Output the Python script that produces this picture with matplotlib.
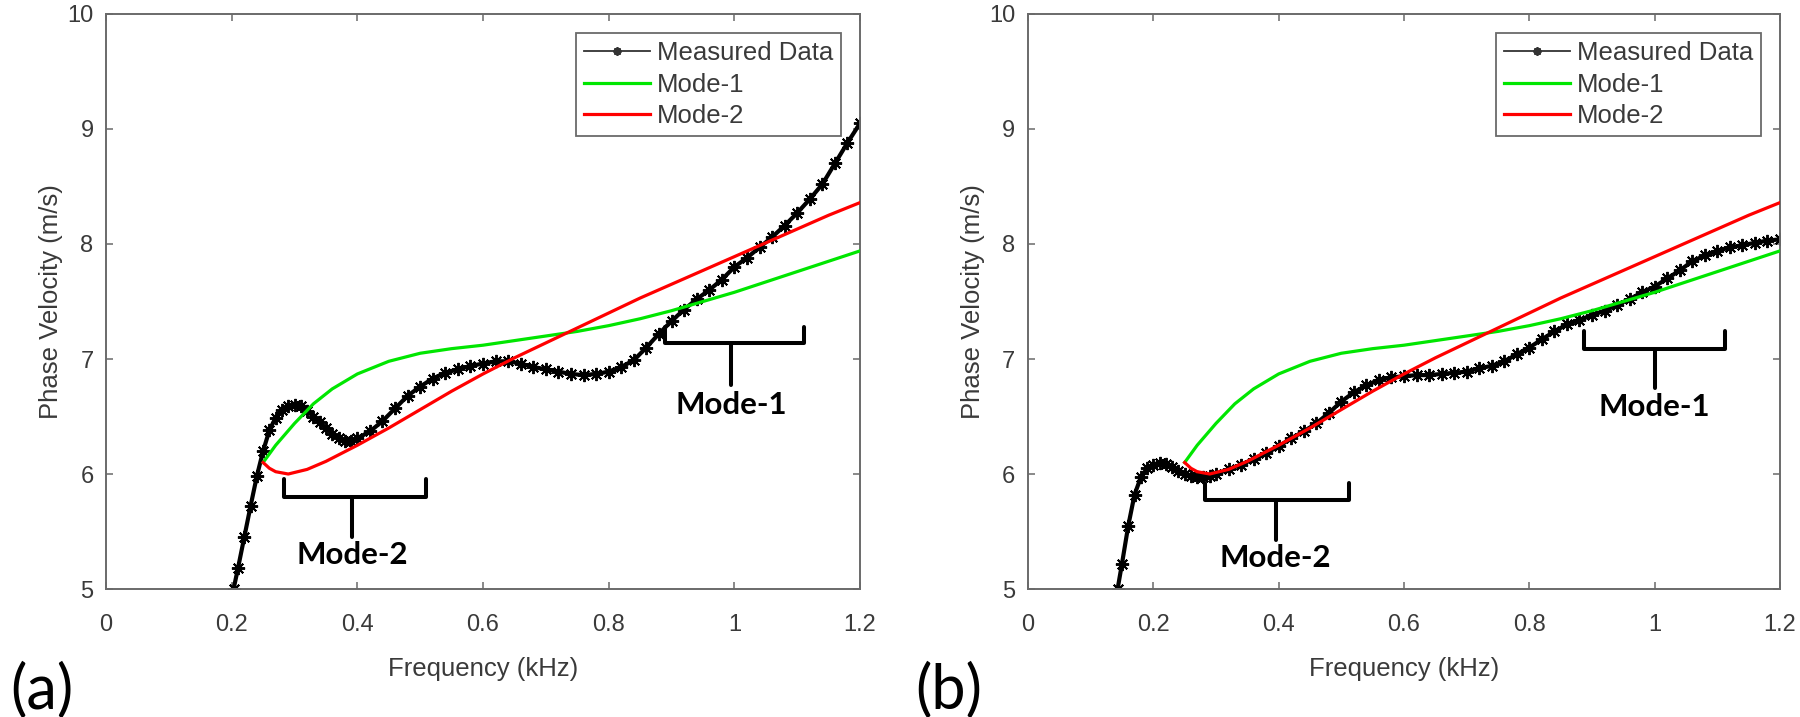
import matplotlib
matplotlib.use("Agg")
import matplotlib.pyplot as plt

plt.rcParams['font.family'] = ['Liberation Sans', 'DejaVu Sans']

# measured dispersion curve, panel (a)
freq_a = [0.203, 0.21, 0.22, 0.23, 0.24, 0.25, 0.26, 0.27, 0.28, 0.29, 0.30, 0.31,
          0.32, 0.33, 0.34, 0.35, 0.36, 0.37, 0.38, 0.39, 0.40, 0.42, 0.44, 0.46,
          0.48, 0.50, 0.52, 0.54, 0.56, 0.58, 0.60, 0.62, 0.64, 0.66, 0.68, 0.70,
          0.72, 0.74, 0.76, 0.78, 0.80, 0.82, 0.84, 0.86, 0.88, 0.90, 0.92, 0.94,
          0.96, 0.98, 1.00, 1.02, 1.04, 1.06, 1.08, 1.10, 1.12, 1.14, 1.16, 1.18, 1.20]
vel_a = [5.00, 5.18, 5.45, 5.72, 5.98, 6.20, 6.38, 6.49, 6.56, 6.59, 6.60, 6.59,
         6.55, 6.50, 6.45, 6.40, 6.35, 6.31, 6.29, 6.29, 6.31, 6.37, 6.46, 6.57,
         6.68, 6.76, 6.83, 6.88, 6.91, 6.94, 6.96, 6.98, 6.98, 6.96, 6.93, 6.91,
         6.89, 6.87, 6.86, 6.87, 6.89, 6.93, 6.99, 7.10, 7.22, 7.33, 7.43, 7.52,
         7.60, 7.69, 7.80, 7.88, 7.97, 8.06, 8.16, 8.27, 8.39, 8.52, 8.70, 8.88, 9.05]

# measured dispersion curve, panel (b)
freq_b = [0.143, 0.15, 0.16, 0.17, 0.18, 0.19, 0.20, 0.21, 0.22, 0.23, 0.24, 0.25,
          0.26, 0.27, 0.28, 0.29, 0.30, 0.32, 0.34, 0.36, 0.38, 0.40, 0.42, 0.44,
          0.46, 0.48, 0.50, 0.52, 0.54, 0.56, 0.58, 0.60, 0.62, 0.64, 0.66, 0.68,
          0.70, 0.72, 0.74, 0.76, 0.78, 0.80, 0.82, 0.84, 0.86, 0.88, 0.90, 0.92,
          0.94, 0.96, 0.98, 1.00, 1.02, 1.04, 1.06, 1.08, 1.10, 1.12, 1.14, 1.16,
          1.18, 1.20]
vel_b = [5.00, 5.22, 5.55, 5.82, 5.97, 6.05, 6.08, 6.10, 6.09, 6.06, 6.03, 6.00,
         5.98, 5.97, 5.97, 5.98, 6.00, 6.04, 6.08, 6.13, 6.18, 6.24, 6.31, 6.37,
         6.44, 6.53, 6.63, 6.71, 6.77, 6.82, 6.84, 6.85, 6.86, 6.86, 6.87, 6.88,
         6.89, 6.92, 6.94, 6.98, 7.04, 7.10, 7.17, 7.24, 7.30, 7.34, 7.38, 7.42,
         7.47, 7.52, 7.58, 7.63, 7.70, 7.77, 7.85, 7.90, 7.94, 7.97, 7.99, 8.01,
         8.03, 8.04]

# theoretical modes (same in both panels)
freq_m1 = [0.25, 0.27, 0.30, 0.33, 0.36, 0.40, 0.45, 0.50, 0.55, 0.60, 0.65, 0.70,
           0.75, 0.80, 0.85, 0.90, 0.95, 1.00, 1.05, 1.10, 1.15, 1.20]
vel_m1 = [6.10, 6.25, 6.44, 6.61, 6.74, 6.87, 6.98, 7.05, 7.09, 7.12, 7.16, 7.20,
          7.24, 7.29, 7.35, 7.42, 7.50, 7.58, 7.67, 7.76, 7.85, 7.94]

freq_m2 = [0.25, 0.26, 0.27, 0.29, 0.32, 0.35, 0.40, 0.45, 0.50, 0.55, 0.60, 0.65,
           0.70, 0.75, 0.80, 0.85, 0.90, 0.95, 1.00, 1.05, 1.10, 1.15, 1.20]
vel_m2 = [6.10, 6.05, 6.02, 6.00, 6.04, 6.11, 6.25, 6.40, 6.56, 6.72, 6.87, 7.01,
          7.14, 7.27, 7.40, 7.53, 7.65, 7.77, 7.89, 8.01, 8.13, 8.25, 8.36]

legend_labels = ['Measured Data', 'Mode-1', 'Mode-2']
panel_tags = ['(a)', '(b)']

AXC = '#6a6a6a'
TXC = '#3a3a3a'


def bracket(ax, x0, x1, xm, ytop, ymid, ybot, ytext, label):
    ax.plot([x0, x0, x1, x1], [ytop, ymid, ymid, ytop], color='black', lw=2.9,
            solid_joinstyle='round', solid_capstyle='round', zorder=5)
    ax.plot([xm, xm], [ymid, ybot], color='black', lw=2.9,
            solid_capstyle='round', zorder=5)
    ax.text(xm, ytext, label, ha='center', va='center', fontsize=22.5,
            fontweight='bold', family=['Lato', 'DejaVu Sans'], color='black')


def panel(ax, fx, vy):
    ax.plot(fx, vy, color='black', lw=3, marker=(8, 2, 0), ms=9.5, mew=1.4,
            label=legend_labels[0], zorder=2)
    ax.plot(freq_m1, vel_m1, color='#00e600', lw=2.3, label=legend_labels[1], zorder=3)
    ax.plot(freq_m2, vel_m2, color='#ff0000', lw=2.3, label=legend_labels[2], zorder=4)
    ax.set_xlim(0, 1.2)
    ax.set_ylim(5, 10)
    ax.set_xticks([0, 0.2, 0.4, 0.6, 0.8, 1.0, 1.2])
    ax.set_xticklabels(['0', '0.2', '0.4', '0.6', '0.8', '1', '1.2'])
    ax.set_yticks([5, 6, 7, 8, 9, 10])
    ax.tick_params(direction='in', length=5, width=1.1, colors=AXC, labelcolor=TXC,
                   labelsize=17, top=True, right=True)
    ax.tick_params(axis='x', pad=18)
    ax.tick_params(axis='y', pad=9)
    for s in ax.spines.values():
        s.set_color(AXC)
        s.set_linewidth(1.4)
    ax.set_xlabel('Frequency (kHz)', fontsize=18.5, color=TXC, labelpad=15)
    ax.set_ylabel('Phase Velocity (m/s)', fontsize=18.5, color=TXC, labelpad=3)
    leg = ax.legend(loc='upper right', fontsize=18.5, frameon=True, fancybox=False,
                    framealpha=1, edgecolor=AXC, handlelength=2.6, handletextpad=0.25,
                    labelspacing=0.3, borderpad=0.3, borderaxespad=0.75)
    leg.get_frame().set_linewidth(1.3)
    h = leg.legend_handles[0]
    h.set_linewidth(1.3)
    h.set_color('#333333')
    h.set_markersize(6)
    for t in leg.get_texts():
        t.set_color(TXC)


fig = plt.figure(figsize=(18, 7.17), dpi=100)
ax1 = fig.add_axes([0.0589, 0.1785, 0.4189, 0.8020])
ax2 = fig.add_axes([0.5711, 0.1785, 0.4178, 0.8020])

panel(ax1, freq_a, vel_a)
panel(ax2, freq_b, vel_b)

bracket(ax1, 0.284, 0.509, 0.392, 5.957, 5.80, 5.45, 5.30, 'Mode-2')
bracket(ax1, 0.889, 1.111, 0.995, 7.278, 7.139, 6.774, 6.60, 'Mode-1')
bracket(ax2, 0.283, 0.512, 0.395, 5.92, 5.77, 5.43, 5.27, 'Mode-2')
bracket(ax2, 0.888, 1.112, 1.0, 7.24, 7.09, 6.75, 6.58, 'Mode-1')

fig.text(0.023, 0.036, panel_tags[0], fontsize=44, ha='center', va='center',
         family=['Lato', 'DejaVu Sans'], color='black')
fig.text(0.527, 0.036, panel_tags[1], fontsize=44, ha='center', va='center',
         family=['Lato', 'DejaVu Sans'], color='black')

fig.savefig('out.png', dpi=100)
